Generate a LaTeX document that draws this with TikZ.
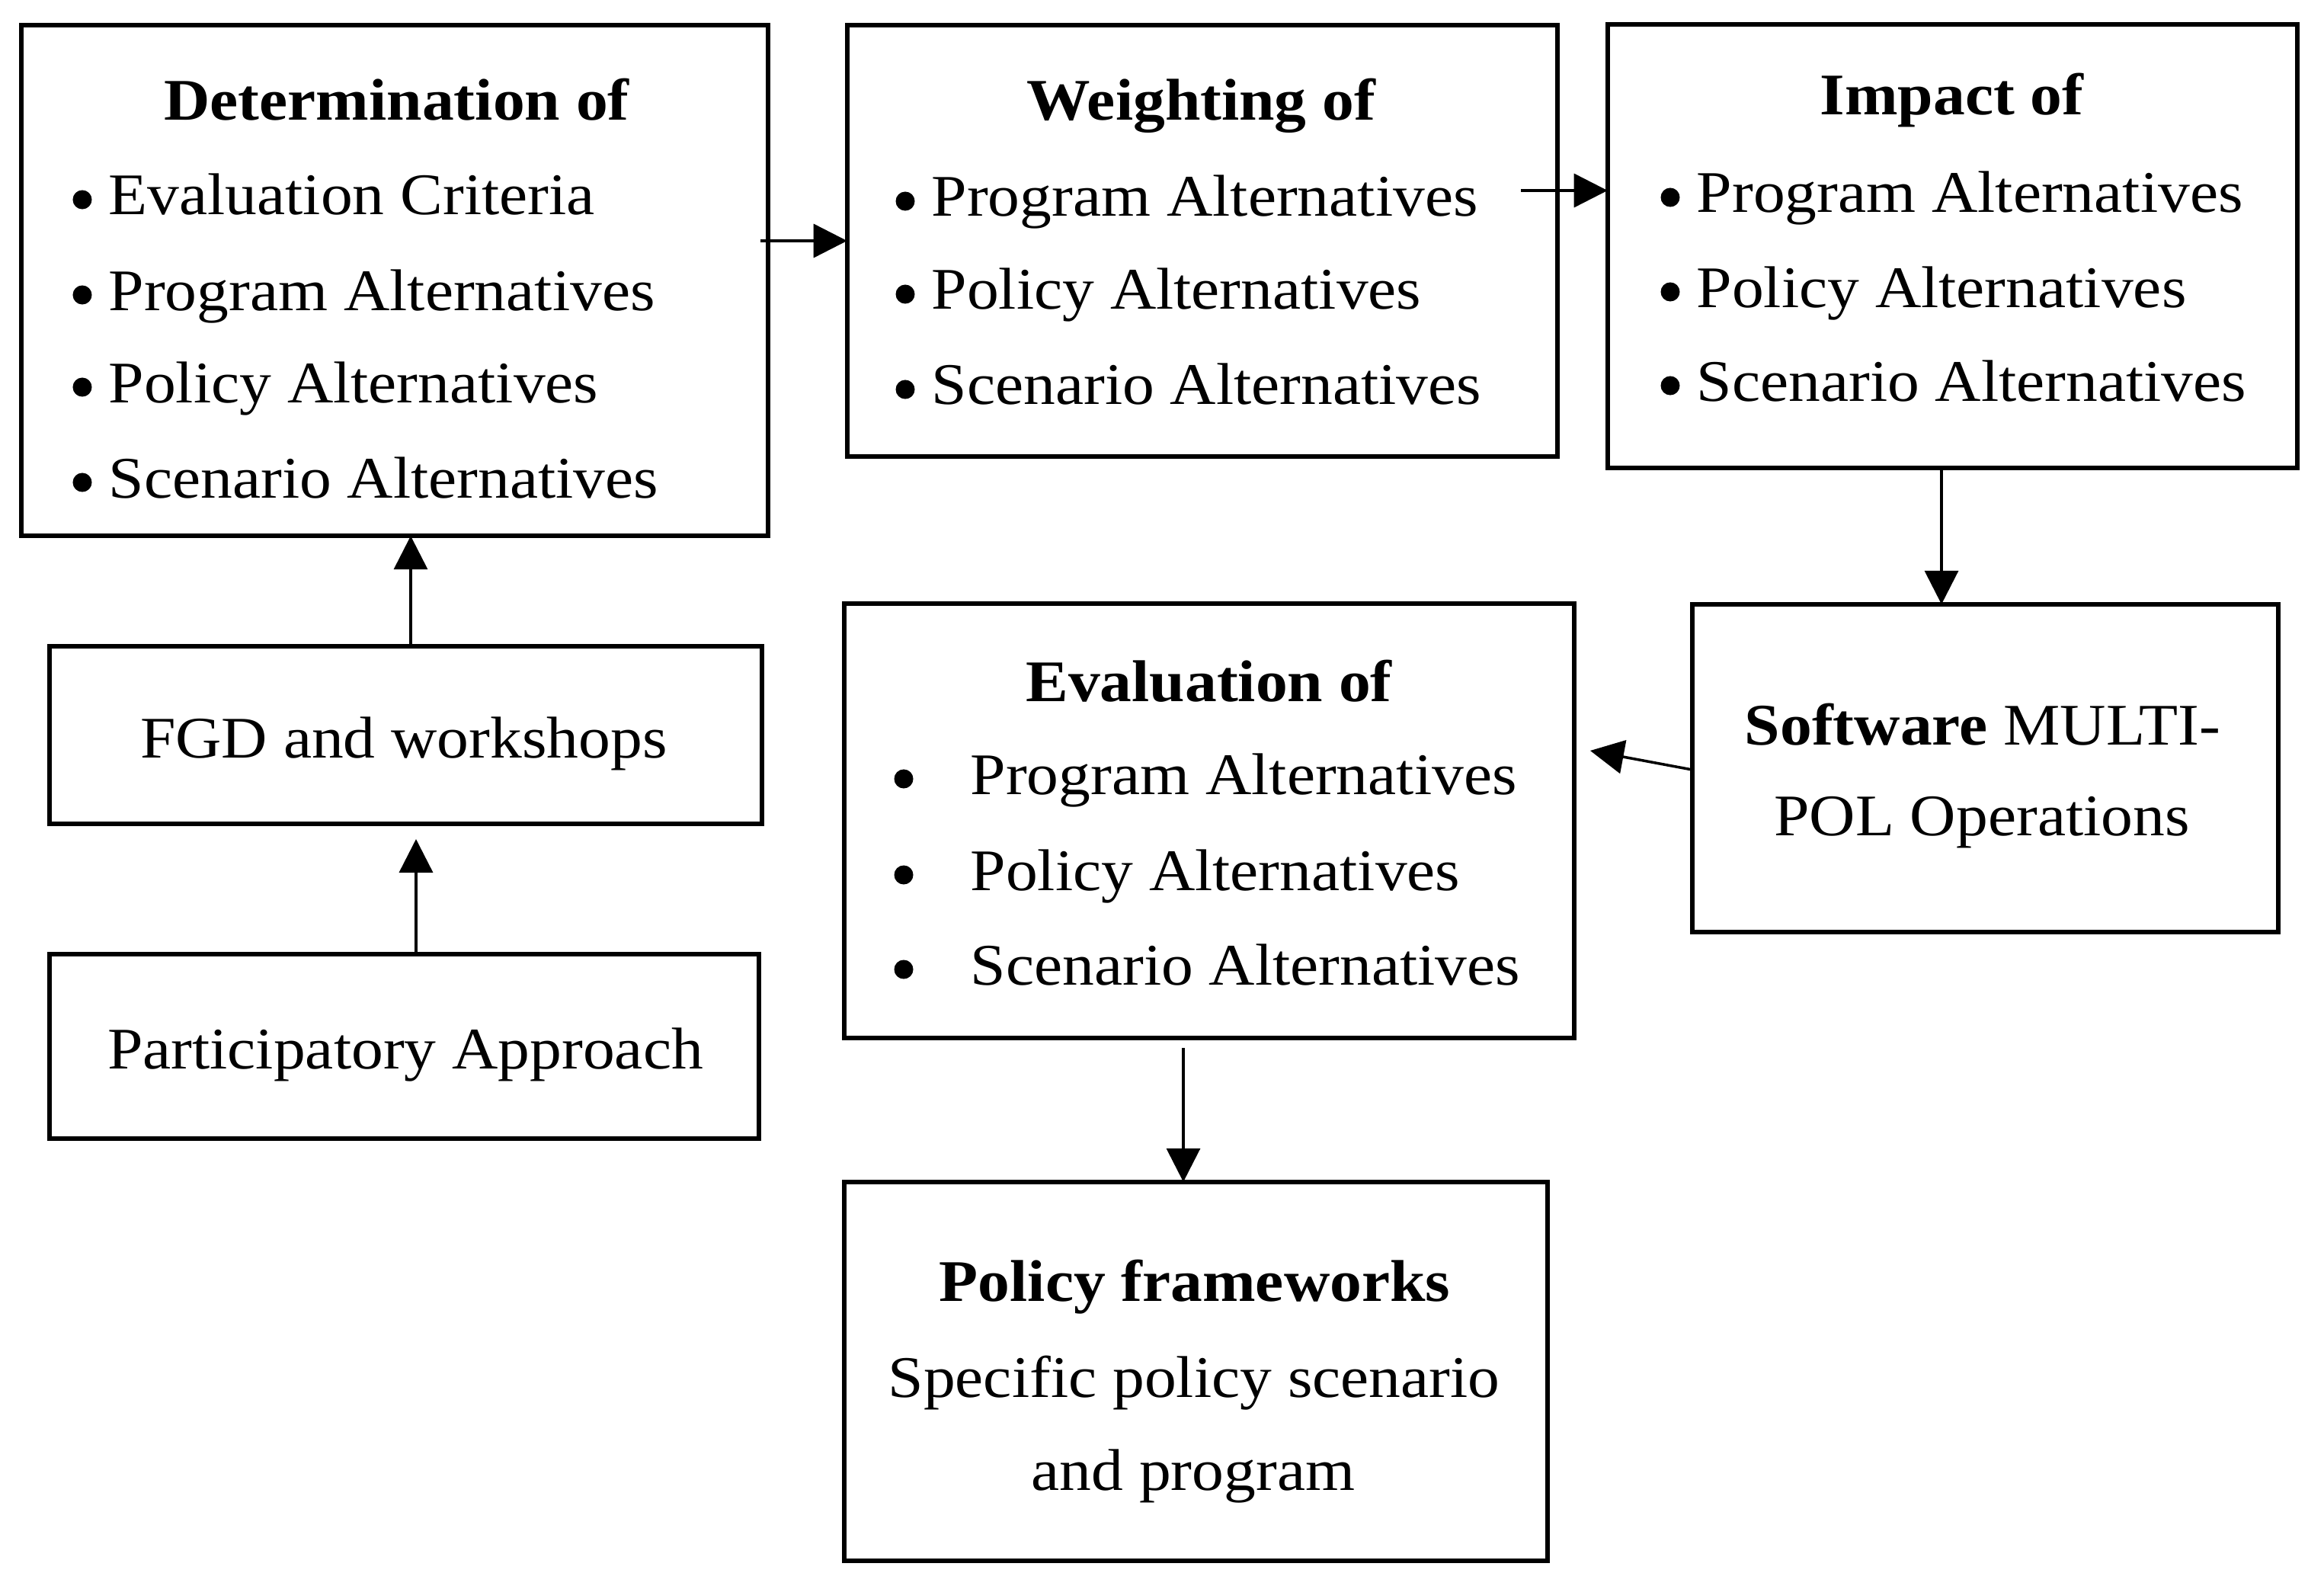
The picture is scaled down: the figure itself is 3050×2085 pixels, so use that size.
\documentclass[tikz,border=0pt]{standalone}
\usepackage{fontspec}
\setmainfont[FakeStretch=1.08]{Liberation Serif}
\usetikzlibrary{arrows.meta}
\begin{document}
\begin{tikzpicture}[x=0.01cm,y=-0.01cm,
  box/.style={draw, line width=1.8pt, inner sep=0pt, outer sep=0pt},
  arr/.style={line width=1pt, -{Triangle[length=4.4mm,width=4.4mm]}},
  txt/.style={inner sep=0pt, anchor=base, font=\fontsize{22pt}{26pt}\selectfont},
  ltxt/.style={txt, anchor=base west},
  bul/.style={circle, fill, inner sep=0pt, minimum size=0.25cm}]
\useasboundingbox[fill=white] (0,0) rectangle (3050,2085);

% boxes
\node[box, minimum width=9.80cm, minimum height=6.70cm] (b1) at (518,368) {};
\node[box, minimum width=9.32cm, minimum height=5.66cm] (b2) at (1578,316) {};
\node[box, minimum width=9.05cm, minimum height=5.82cm] (b3) at (2562.5,323) {};
\node[box, minimum width=9.35cm, minimum height=2.33cm] (b4) at (532.5,964.5) {};
\node[box, minimum width=9.31cm, minimum height=2.42cm] (b5) at (530.5,1373) {};
\node[box, minimum width=9.58cm, minimum height=5.70cm] (b6) at (1587,1077) {};
\node[box, minimum width=7.69cm, minimum height=4.30cm] (b7) at (2605.5,1008) {};
\node[box, minimum width=9.23cm, minimum height=4.97cm] (b8) at (1569.5,1799.5) {};

% box 1 text
\node[txt] (t1) at (521,158) {\textbf{Determination of}};
\foreach \yy/\tt [count=\i] in {282/Evaluation Criteria, 407/Program Alternatives, 528/Policy Alternatives, 653/Scenario Alternatives}{
  \node[bul] (u1\i) at (108,\yy-20) {};
  \node[ltxt] (l1\i) at (142,\yy) {\tt};
}
% box 2 text
\node[txt] (t2) at (1577,158) {\textbf{Weighting of}};
\foreach \yy/\tt [count=\i] in {284/Program Alternatives, 406/Policy Alternatives, 531/Scenario Alternatives}{
  \node[bul] (u2\i) at (1188,\yy-20) {};
  \node[ltxt] (l2\i) at (1222,\yy) {\tt};
}
% box 3 text
\node[txt] (t3) at (2562,151) {\textbf{Impact of}};
\foreach \yy/\tt [count=\i] in {279/Program Alternatives, 403/Policy Alternatives, 526/Scenario Alternatives}{
  \node[bul] (u3\i) at (2192,\yy-20) {};
  \node[ltxt] (l3\i) at (2226,\yy) {\tt};
}
% box 4, 5 text
\node[txt] (t4) at (530,994) {FGD and workshops};
\node[txt] (t5) at (532,1402) {Participatory Approach};
% box 6 text
\node[txt] (t6) at (1587,920) {\textbf{Evaluation of}};
\foreach \yy/\tt [count=\i] in {1042/Program Alternatives, 1168/Policy Alternatives, 1292/Scenario Alternatives}{
  \node[bul] (u6\i) at (1186,\yy-20) {};
  \node[ltxt] (l6\i) at (1273,\yy) {\tt};
}
% box 7 text
\node[txt] (t7a) at (2602,977) {\textbf{Software} MULTI-};
\node[txt] (t7b) at (2601,1096) {POL Operations};
% box 8 text
\node[txt] (t8a) at (1568,1707) {\textbf{Policy frameworks}};
\node[txt] (t8b) at (1567,1833) {Specific policy scenario};
\node[txt] (t8c) at (1566,1955) {and program};

% connector helper coordinates
\coordinate (a12) at (998,316);
\coordinate (a23) at (1996,250);
\coordinate (a37) at (2548,614);
\coordinate (s76) at (2221,1010);
\coordinate (e76) at (2087,985);
\coordinate (a68) at (1553,1375);
\coordinate (a41) at (539,848);
\coordinate (a54) at (546,1101);

% connectors
\draw[arr] (a12) -- (a12 -| b2.west);
\draw[arr] (a23) -- (a23 -| b3.west);
\draw[arr] (a37 |- b3.south) -- (a37 |- b7.north);
\draw[arr] (s76 -| b7.west) -- (e76);
\draw[arr] (a68) -- (a68 |- b8.north);
\draw[arr] (a41 |- b4.north) -- (a41 |- b1.south);
\draw[arr] (a54 |- b5.north) -- (a54);
\end{tikzpicture}
\end{document}
